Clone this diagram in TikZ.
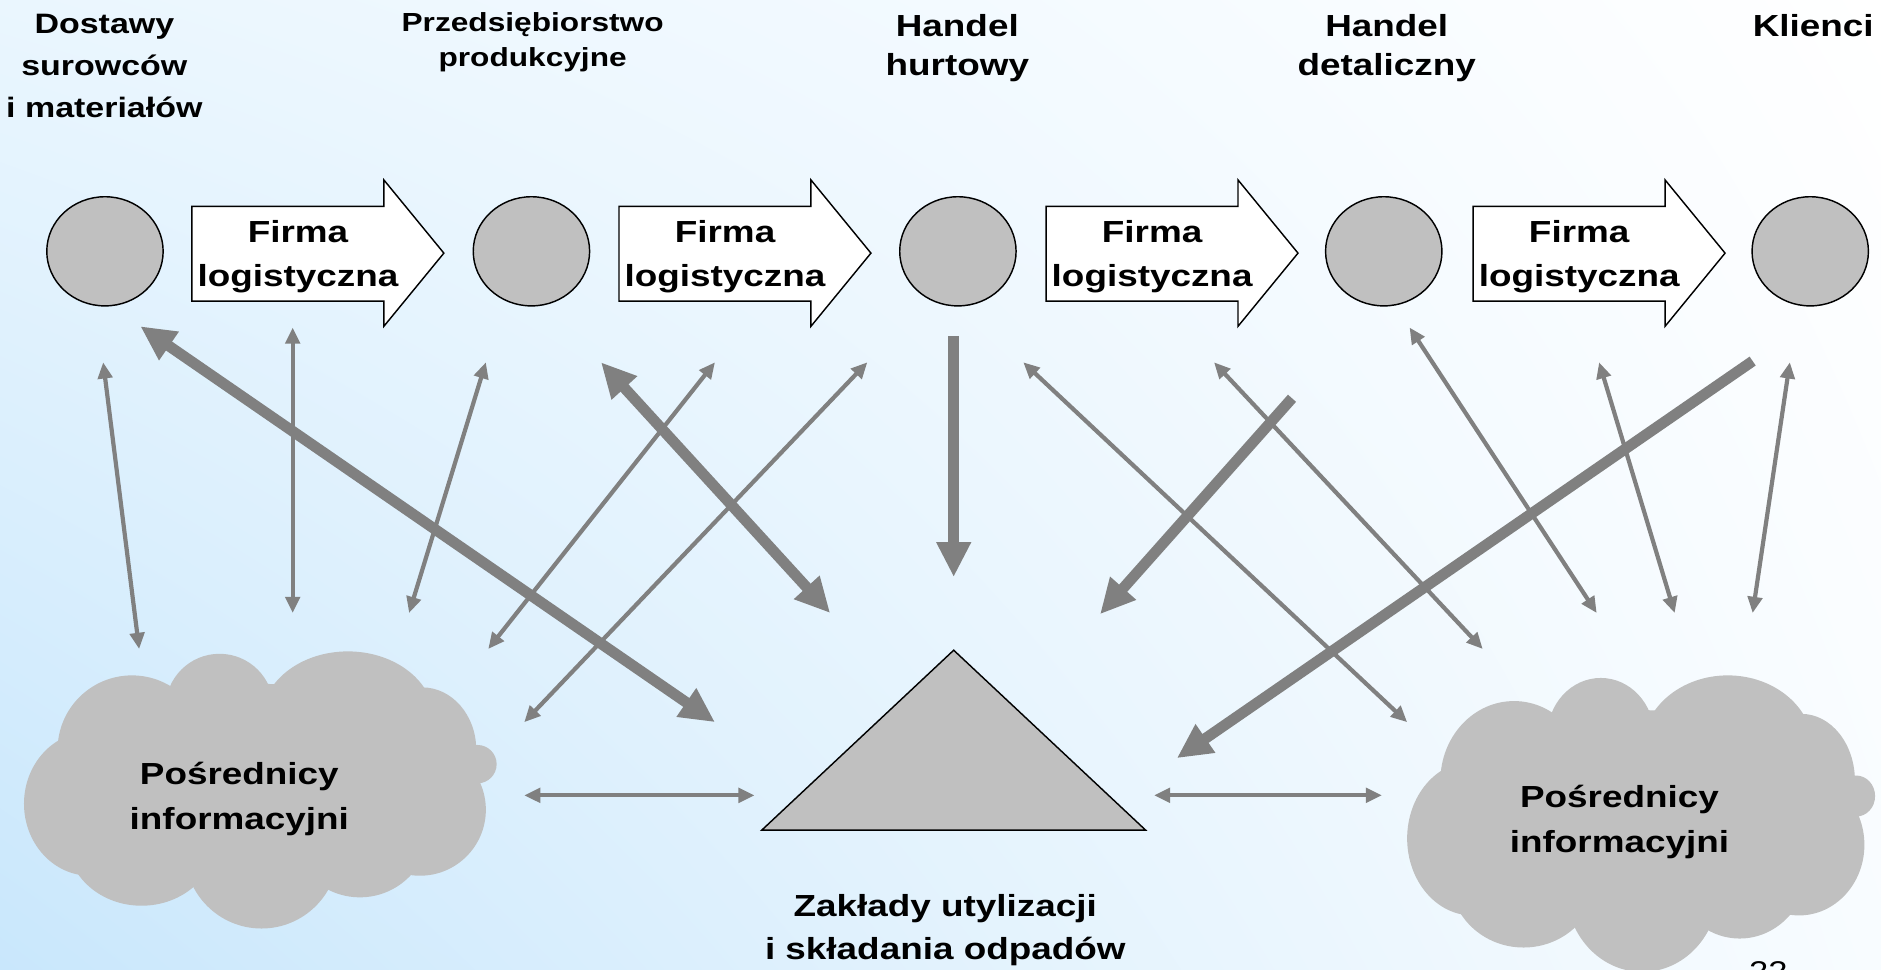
\documentclass[tikz,border=0pt]{standalone}
\usepackage{fontspec}
\setmainfont{Liberation Sans}[FakeStretch=1.21]
\usetikzlibrary{arrows.meta,shapes.geometric,shadings}
\definecolor{lgray}{HTML}{C0C0C0}
\definecolor{agray}{HTML}{808080}
\definecolor{bgA}{HTML}{EAF6FE}
\definecolor{bgB}{HTML}{C9E7FC}
\definecolor{bgC}{HTML}{F3FAFF}
\definecolor{bgD}{HTML}{E2F2FD}
\definecolor{bgE}{HTML}{F8FCFF}
\newcommand\mycloudshape{%
  \fill[lgray] (90,82) ellipse [x radius=62, y radius=62];
  \fill[lgray] (163,47) ellipse [x radius=45, y radius=45];
  \fill[lgray] (270,57) ellipse [x radius=72, y radius=57];
  \fill[lgray] (332,82) ellipse [x radius=45, y radius=52];
  \fill[lgray] (378,94) ellipse [x radius=16, y radius=16];
  \fill[lgray] (330,132) ellipse [x radius=55, y radius=55];
  \fill[lgray] (280,147) ellipse [x radius=58, y radius=58];
  \fill[lgray] (198,167) ellipse [x radius=64, y radius=64];
  \fill[lgray] (98,157) ellipse [x radius=62, y radius=55];
  \fill[lgray] (55,127) ellipse [x radius=55, y radius=60];
  \fill[lgray] (195,112) ellipse [x radius=150, y radius=85];
}
\begin{document}
\begin{tikzpicture}[x=0.5pt,y=-0.5pt,
  lbl/.style={font=\bfseries\fontsize{12.7}{18.3}\selectfont, align=center, inner sep=0pt},
  toplbl/.style={font=\bfseries\fontsize{12.7}{16}\selectfont, align=center, inner sep=0pt},
  disc/.style={ellipse, draw=black, fill=lgray, line width=0.6pt, minimum width=48.5pt, minimum height=45.5pt, inner sep=0pt},
  blockarr/.style={draw=black, fill=white, line width=0.6pt, line join=miter},
  conthin/.style={draw=agray, line width=1.75pt, arrows={Triangle[length=6.75pt,width=6pt]-Triangle[length=6.75pt,width=6pt]}},
  conthick/.style={draw=agray, line width=4.5pt, arrows={-Triangle[length=14.5pt,width=13.5pt]}},
  conthickboth/.style={draw=agray, line width=4.5pt, arrows={Triangle[length=14.5pt,width=13.5pt]-Triangle[length=14.5pt,width=13.5pt]}}
]
\useasboundingbox (0,0) rectangle (1568,808);
% background
\shade[upper left=bgA, lower left=bgB, upper right=bgC, lower right=bgD] (0,0) rectangle (791,808);
\shade[upper left=bgC, lower left=bgD, upper right=white, lower right=bgE] (790,0) rectangle (1568,808);

% top labels
\node[font=\bfseries\fontsize{11.7}{17.5}\selectfont, align=center, inner sep=0pt] (ldost) at (87,54.7) {Dostawy\\surowców\\i materiałów};
\node[font=\bfseries\fontsize{10.9}{14.6}\selectfont, align=center, inner sep=0pt] (lprzed) at (444,35.5) {Przedsiębiorstwo\\produkcyjne};
\node[toplbl] (lhurt) at (798,40.1) {Handel\\hurtowy};
\node[toplbl] (ldet) at (1156,40.1) {Handel\\detaliczny};
\node[toplbl] (lkl) at (1511.5,21.5) {Klienci};

% discs
\node[disc] (c1) at (87.5,209.5) {};
\node[disc] (c2) at (443,209.5) {};
\node[disc] (c3) at (798.5,209.5) {};
\node[disc] (c4) at (1153.5,209.5) {};
\node[disc] (c5) at (1509,209.5) {};

% block arrows
\foreach \k [evaluate=\k as \xo using 160+356*(\k-1)] in {1,...,4} {
  \draw[blockarr] (\xo,172) -- (\xo+160,172) -- (\xo+160,150) -- (\xo+210,211) -- (\xo+160,272) -- (\xo+160,251) -- (\xo,251) -- cycle;
  \node[lbl] (f\k) at (\xo+88.4,214.3) {Firma\\logistyczna};
}

% clouds
\begin{scope}[shift={(20,543)}]
  \mycloudshape
\end{scope}
\begin{scope}[shift={(1173,563)}, xscale=0.99, yscale=1.07]
  \mycloudshape
\end{scope}
\node[font=\bfseries\fontsize{12.7}{18.7}\selectfont, align=center, inner sep=0pt] (pl) at (199.5,666) {Pośrednicy\\informacyjni};
\node[font=\bfseries\fontsize{12.7}{18.7}\selectfont, align=center, inner sep=0pt] (pr) at (1350,685) {Pośrednicy\\informacyjni};

% triangle
\draw[fill=lgray, line width=0.6pt, line join=miter] (795,542) -- (955,692) -- (635,692) -- cycle;
\node[font=\bfseries\fontsize{12.7}{18}\selectfont, align=center, inner sep=0pt] (zak) at (788,775.5) {Zakłady utylizacji\\i składania odpadów};

% connector end points
\coordinate (t1a) at (86,302);   \coordinate (t1b) at (116,541);
\coordinate (t2a) at (244,273);  \coordinate (t2b) at (244,511);
\coordinate (t3a) at (405,302);  \coordinate (t3b) at (341,511);
\coordinate (t4a) at (596,302);  \coordinate (t4b) at (407,541);
\coordinate (t5a) at (723,302);  \coordinate (t5b) at (437,602);
\coordinate (t6a) at (437,663);  \coordinate (t6b) at (629,663);
\coordinate (t7a) at (853,302);  \coordinate (t7b) at (1173,602);
\coordinate (t8a) at (1012,302); \coordinate (t8b) at (1236,541);
\coordinate (t9a) at (1175,273); \coordinate (t9b) at (1331,511);
\coordinate (t10a) at (1333,302); \coordinate (t10b) at (1396,511);
\coordinate (t11a) at (1492,302); \coordinate (t11b) at (1461,511);
\coordinate (t12a) at (962,663); \coordinate (t12b) at (1152,663);
\coordinate (kAa) at (117,272);  \coordinate (kAb) at (596,602);
\coordinate (kBa) at (501,302);  \coordinate (kBb) at (692,511);
\coordinate (kCa) at (795,280);  \coordinate (kCb) at (795,481);
\coordinate (kDa) at (1077,332); \coordinate (kDb) at (917,512);
\coordinate (kEa) at (1461,301); \coordinate (kEb) at (981,632);

% thin connectors
\foreach \i in {1,...,12} { \draw[conthin] (t\i a) -- (t\i b); }
% thick connectors
\draw[conthickboth] (kAa) -- (kAb);
\draw[conthickboth] (kBa) -- (kBb);
\draw[conthick] (kCa) -- (kCb);
\draw[conthick] (kDa) -- (kDb);
\draw[conthick] (kEa) -- (kEb);

% page number (cut off by the page edge, as in the reference)
\node[font=\fontsize{11.9}{14}\selectfont, anchor=base, inner sep=0pt] (pgnum) at (1474,818.5) {22};
\end{tikzpicture}
\end{document}
